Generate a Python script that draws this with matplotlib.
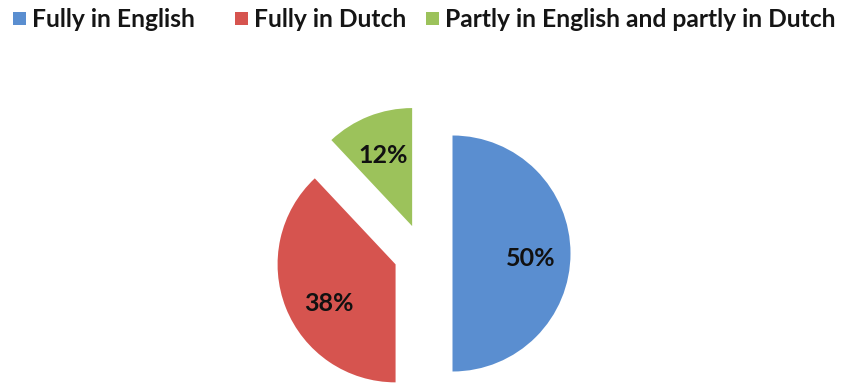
import matplotlib
matplotlib.use('Agg')
import matplotlib.pyplot as plt
import matplotlib.patches as mpatches

# Data
labels = ['Fully in English', 'Fully in Dutch', 'Partly in English and partly in Dutch']
shares = [50, 38, 12]
colors = ['#5A8ED0', '#D6544F', '#9CC25B']
explode = [0.25, 0.25, 0.25]

plt.rcParams['font.family'] = ['Lato', 'DejaVu Sans']

W, H = 850, 387
fig = plt.figure(figsize=(W / 100, H / 100), dpi=100)

# pie centre ~ (423, 253) px, radius ~118 px
r_px = 118
lim = 1.3
cx, cy = 423, H - 253.5
size = lim * 2 * r_px
ax = fig.add_axes([(cx - size / 2) / W, (cy - size / 2) / H, size / W, size / H])

wedges, texts, autotexts = ax.pie(shares, colors=colors, explode=explode, startangle=90,
                                  counterclock=False, autopct='%d%%', pctdistance=0.66,
                                  radius=1.0, wedgeprops=dict(linewidth=0))

# small nudges (in pixels, right / down) so the labels sit where the original has them
nudges = [(0, 4.5), (5.5, 10), (0, 1.5)]
for t, (dx, dy) in zip(autotexts, nudges):
    x, y = t.get_position()
    t.set_position((x + dx / r_px, y - dy / r_px))
    t.set_fontsize(18)
    t.set_fontweight('bold')
    t.set_color('#111111')
ax.set_xlim(-lim, lim)
ax.set_ylim(-lim, lim)
ax.set_aspect('auto')
ax.axis('off')

# legend drawn by hand so the spacing follows the original (pixel x of each swatch)
swatch_x = [13, 235, 426]
for x, c, lab in zip(swatch_x, colors, labels):
    fig.patches.append(mpatches.Rectangle((x / W, (H - 25) / H), 13 / W, 13 / H,
                                          facecolor=c, edgecolor='none',
                                          transform=fig.transFigure, figure=fig))
    fig.text((x + 19) / W, (H - 27) / H, lab, ha='left', va='baseline',
             fontsize=17.7, fontweight='bold', color='#151515')

fig.savefig('out.png', dpi=100)
